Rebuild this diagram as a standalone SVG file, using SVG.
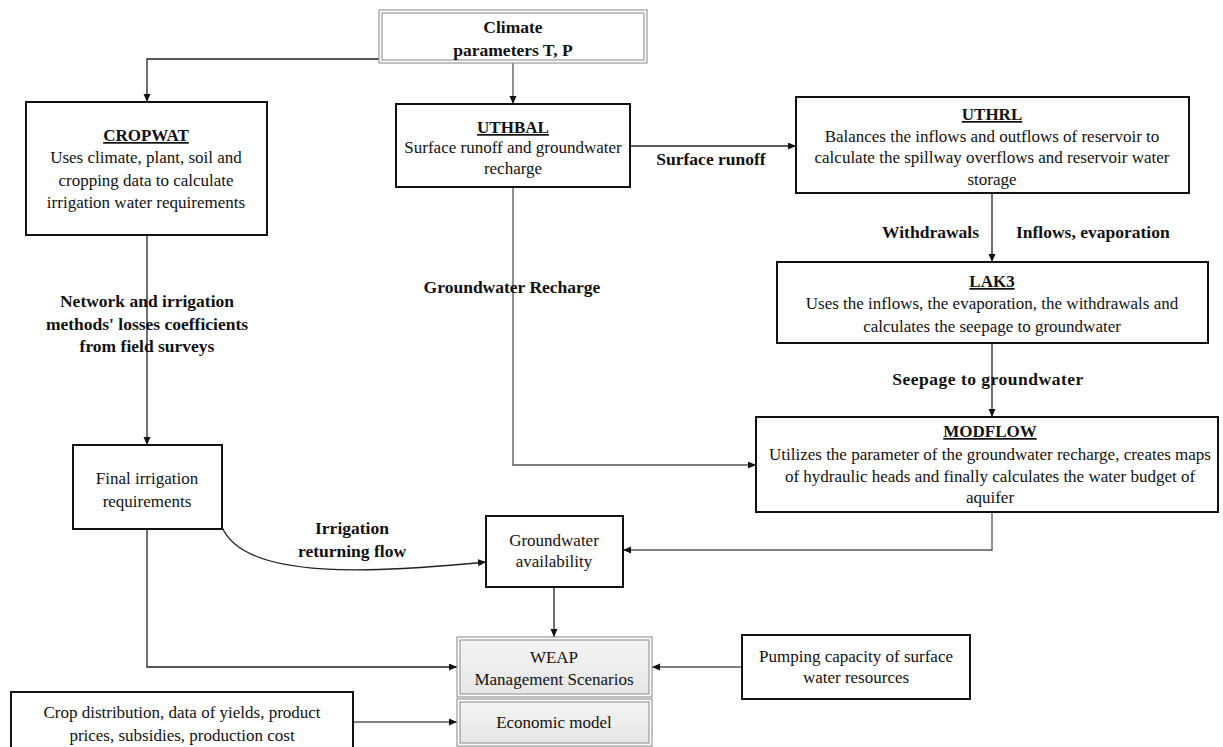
<svg xmlns="http://www.w3.org/2000/svg" width="1223" height="747" viewBox="0 0 1223 747">
<style>
.box{fill:#fff;stroke:#111;stroke-width:2}
.dbl{fill:none;stroke:#999;stroke-width:1.2}
.t{font-family:"Liberation Serif","Times New Roman",serif;font-size:17px;fill:#111;text-anchor:middle}
.b{font-family:"Liberation Serif","Times New Roman",serif;font-size:17.5px;font-weight:bold;fill:#111}
.h{font-weight:bold;text-decoration:underline}
.c{fill:none;stroke:#222;stroke-width:1.3;marker-end:url(#ar)}
.g{stroke:#555}
</style>
<defs>
<marker id="ar" markerUnits="userSpaceOnUse" markerWidth="9" markerHeight="8" refX="8" refY="3.5" orient="auto">
<path d="M0,0 L8,3.5 L0,7 z" fill="#111"/>
</marker>
<linearGradient id="gg" x1="0" y1="0" x2="0" y2="1">
<stop offset="0" stop-color="#f4f4f4"/>
<stop offset="1" stop-color="#e6e6e6"/>
</linearGradient>
</defs>
<rect width="1223" height="747" fill="#fff"/>

<g id="connectors">
<path class="c" d="M379,59 H147 V102"/>
<path class="c g" d="M513,63 V104"/>
<path class="c" d="M630,146 H796"/>
<path class="c" d="M992,193 V262"/>
<path class="c" d="M992,343 V417"/>
<path class="c g" d="M513,187 V465 H756"/>
<path class="c" d="M147,235 V445"/>
<path class="c" d="M147,529 V667 H457"/>
<path class="c" d="M222,527 C245,582 380,572 486,562"/>
<path class="c g" d="M992,512 V550 H623"/>
<path class="c" d="M554,587 V637"/>
<path class="c g" d="M742,667 H652"/>
<path class="c g" d="M353,722 H457"/>
</g>

<g id="labels">
<text class="b" x="711" y="165" text-anchor="middle">Surface  runoff</text>
<text class="b" x="979" y="238" text-anchor="end">Withdrawals</text>
<text class="b" x="1016" y="238">Inflows, evaporation</text>
<text class="b" x="512" y="293" text-anchor="middle">Groundwater Recharge</text>
<text class="b" x="988" y="385" text-anchor="middle" letter-spacing="0.5">Seepage to groundwater</text>
<text class="b" x="147" y="307" text-anchor="middle">Network and irrigation</text>
<text class="b" x="147" y="330" text-anchor="middle">methods' losses coefficients</text>
<text class="b" x="147" y="352" text-anchor="middle">from field surveys</text>
<text class="b" x="352" y="534" text-anchor="middle">Irrigation</text>
<text class="b" x="352" y="557" text-anchor="middle">returning flow</text>
</g>

<g id="climate">
<rect x="379" y="10" width="268" height="53" class="dbl"/>
<rect x="382" y="13" width="262" height="47" class="dbl"/>
<text class="b" x="513" y="33" text-anchor="middle">Climate</text>
<text class="b" x="513" y="56" text-anchor="middle">parameters T, P</text>
</g>

<g id="cropwat">
<rect x="26" y="102" width="241" height="133" class="box"/>
<text class="t h" x="146" y="141">CROPWAT</text>
<text class="t" x="146" y="163">Uses climate, plant, soil and</text>
<text class="t" x="146" y="186">cropping data to calculate</text>
<text class="t" x="146" y="208">irrigation water requirements</text>
</g>

<g id="uthbal">
<rect x="396" y="104" width="234" height="83" class="box"/>
<text class="t h" x="513" y="133">UTHBAL</text>
<text class="t" x="513" y="153">Surface runoff and groundwater</text>
<text class="t" x="513" y="174">recharge</text>
</g>

<g id="uthrl">
<rect x="796" y="97" width="393" height="96" class="box"/>
<text class="t h" x="992" y="120">UTHRL</text>
<text class="t" x="992" y="142">Balances the inflows and outflows of reservoir to</text>
<text class="t" x="992" y="163">calculate the spillway overflows and reservoir water</text>
<text class="t" x="992" y="185">storage</text>
</g>

<g id="lak3">
<rect x="777" y="262" width="431" height="81" class="box"/>
<text class="t h" x="992" y="287">LAK3</text>
<text class="t" x="992" y="309">Uses the inflows, the evaporation, the withdrawals and</text>
<text class="t" x="992" y="332">calculates the seepage to groundwater</text>
</g>

<g id="modflow">
<rect x="756" y="417" width="462" height="95" class="box"/>
<text class="t h" x="990" y="437">MODFLOW</text>
<text class="t" x="990" y="460">Utilizes the parameter of  the groundwater recharge, creates maps</text>
<text class="t" x="990" y="482">of hydraulic heads and finally calculates the water budget of</text>
<text class="t" x="990" y="503">aquifer</text>
</g>

<g id="final">
<rect x="73" y="445" width="149" height="84" class="box"/>
<text class="t" x="147" y="484">Final irrigation</text>
<text class="t" x="147" y="507">requirements</text>
</g>

<g id="gw">
<rect x="486" y="516" width="137" height="71" class="box"/>
<text class="t" x="554" y="546">Groundwater</text>
<text class="t" x="554" y="567">availability</text>
</g>

<g id="weap">
<rect x="457" y="637" width="195" height="60" class="dbl"/>
<rect x="460" y="640" width="189" height="54" fill="url(#gg)" stroke="#999" stroke-width="1.2"/>
<text class="t" x="554" y="663">WEAP</text>
<text class="t" x="554" y="685">Management Scenarios</text>
</g>

<g id="economic">
<rect x="457" y="699" width="195" height="47" class="dbl"/>
<rect x="460" y="702" width="189" height="41" fill="url(#gg)" stroke="#999" stroke-width="1.2"/>
<text class="t" x="554" y="728">Economic model</text>
</g>

<g id="pumping">
<rect x="742" y="635" width="228" height="64" class="box"/>
<text class="t" x="856" y="662">Pumping capacity of surface</text>
<text class="t" x="856" y="683">water resources</text>
</g>

<g id="crop">
<rect x="11" y="692" width="342" height="60" class="box"/>
<text class="t" x="182" y="718">Crop distribution, data of yields, product</text>
<text class="t" x="182" y="741">prices, subsidies, production cost</text>
</g>
</svg>
